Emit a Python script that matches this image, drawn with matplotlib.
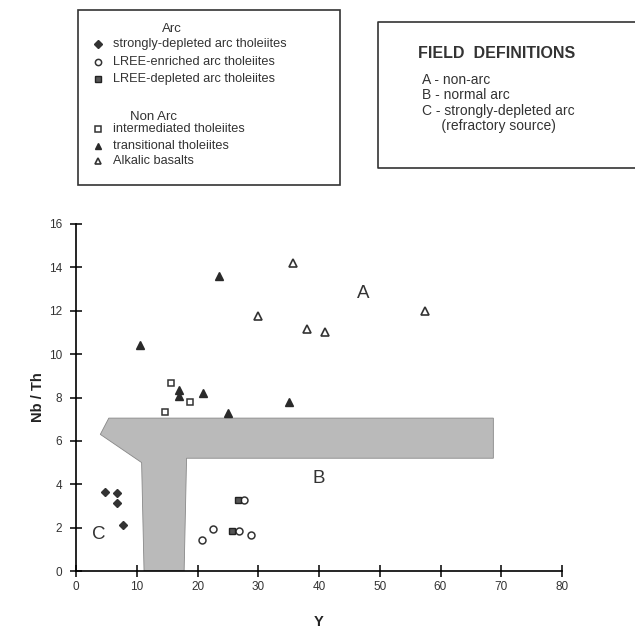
#!/usr/bin/env python3
"""Nb/Th vs Y discrimination diagram (arc / non-arc fields)."""
import matplotlib
matplotlib.use('Agg')
import matplotlib.pyplot as plt
from matplotlib.patches import Polygon, Rectangle

plt.rcParams.update({
    'font.family': ['Liberation Sans', 'DejaVu Sans'],
    'font.size': 8,
    'axes.linewidth': 1.2,
})

# --- data (Y ppm, Nb/Th) ---
sd_y = [4.8, 6.7, 6.7, 7.8]
sd_nbth = [3.63, 3.60, 3.12, 2.14]

enr_y = [20.8, 22.6, 28.8, 27.7, 26.9]
enr_nbth = [1.42, 1.92, 1.68, 3.26, 1.86]

dep_y = [26.6, 25.7]
dep_nbth = [3.26, 1.86]

int_y = [15.6, 14.7, 18.7]
int_nbth = [8.69, 7.35, 7.78]

trans_y = [10.6, 23.5, 16.9, 16.9, 20.9, 25.1, 35.0]
trans_nbth = [10.4, 13.6, 8.35, 8.05, 8.23, 7.27, 7.8]

alk_y = [35.8, 30.0, 38.1, 41.0, 57.4]
alk_nbth = [14.18, 11.77, 11.14, 11.0, 11.98]

# shaded arc field outline
field_y = [5.4, 68.7, 68.7, 18.2, 17.8, 11.2, 10.8, 4.0]
field_nbth = [7.05, 7.05, 5.2, 5.2, 0.0, 0.0, 5.0, 6.3]

field_labels = ['A', 'B', 'C']
field_lab_y = [47.3, 39.9, 3.7]
field_lab_nbth = [12.8, 4.27, 1.66]

arc_labels = ['strongly-depleted arc tholeiites',
              'LREE-enriched arc tholeiites',
              'LREE-depleted arc tholeiites']
nonarc_labels = ['intermediated tholeiites',
                 'transitional tholeiites',
                 'Alkalic basalts']
defs = ['A - non-arc', 'B - normal arc', 'C - strongly-depleted arc',
        '     (refractory source)']

W, H = 635, 631
fig = plt.figure(figsize=(W / 100, H / 100), dpi=100)

# main axes
ax = fig.add_axes([76 / W, 1 - 571 / H, (562 - 76) / W, (571 - 224) / H])
ax.add_patch(Polygon(list(zip(field_y, field_nbth)), closed=True,
                     facecolor='#bababa', edgecolor='#888888', linewidth=0.6, zorder=1))

ms = 5
styles = [
    (sd_y, sd_nbth, dict(marker='D', mfc='#333333', mec='#333333', ms=4.2)),
    (enr_y, enr_nbth, dict(marker='o', mfc='white', mec='#333333', ms=ms, mew=1.1)),
    (dep_y, dep_nbth, dict(marker='s', mfc='#555555', mec='#222222', ms=ms, mew=1.0)),
    (int_y, int_nbth, dict(marker='s', mfc='white', mec='#333333', ms=ms, mew=1.1)),
    (trans_y, trans_nbth, dict(marker='^', mfc='#2a2a2a', mec='#2a2a2a', ms=ms + 0.5)),
    (alk_y, alk_nbth, dict(marker='^', mfc='white', mec='#333333', ms=ms + 0.5, mew=1.2)),
]
for xs, ys, kw in styles:
    ax.plot(xs, ys, linestyle='none', zorder=3, **kw)

for lab, x, y in zip(field_labels, field_lab_y, field_lab_nbth):
    ax.text(x, y, lab, fontsize=13.5, ha='center', va='center', color='#333333')

ax.set_xlim(0, 80)
ax.set_ylim(0, 16)
ax.set_xticks(range(0, 81, 10))
ax.set_yticks(range(0, 17, 2))
ax.spines['top'].set_visible(False)
ax.spines['right'].set_visible(False)
ax.tick_params(direction='inout', length=8, width=1.1, labelsize=8.5,
               labelcolor='#333333')
ax.tick_params(axis='x', pad=3)
ax.tick_params(axis='y', pad=6)
ax.set_xlabel('Y', fontsize=10.5, fontweight='bold', labelpad=16, color='#222222')
ax.set_ylabel('Nb / Th', fontsize=10.5, fontweight='bold', labelpad=3, color='#222222')

# symbol legend box (pixel coordinates)
lg = fig.add_axes([0, 0, 1, 1], facecolor='none')
lg.set_xlim(0, W)
lg.set_ylim(H, 0)
lg.axis('off')
lg.add_patch(Rectangle((78, 10), 262, 175, fill=False, edgecolor='#333333', linewidth=1.2))
lg.text(172, 29, 'Arc', fontsize=9.5, ha='center', va='center', color='#333333')
lg.text(154, 117, 'Non Arc', fontsize=9.5, ha='center', va='center', color='#333333')
row_y = [44, 62, 79, 129, 146, 161]
for (xs, ys, kw), lab, yy in zip(styles, arc_labels + nonarc_labels, row_y):
    lg.plot([98], [yy], linestyle='none', **{**kw, 'ms': kw['ms'] - 0.5})
    lg.text(113, yy, lab, fontsize=9.2, ha='left', va='center', color='#333333')

# field definitions box (runs off the right edge)
lg.plot([645, 378, 378, 645], [21.7, 21.7, 168, 168], color='#333333', linewidth=1.2)
lg.text(418, 53, 'FIELD  DEFINITIONS', fontsize=11.5, fontweight='bold',
        ha='left', va='center', color='#333333')
for i, d in enumerate(defs):
    lg.text(422, 80 + i * 15.3, d, fontsize=10, ha='left', va='center', color='#333333')

fig.savefig('out.png', dpi=100)
